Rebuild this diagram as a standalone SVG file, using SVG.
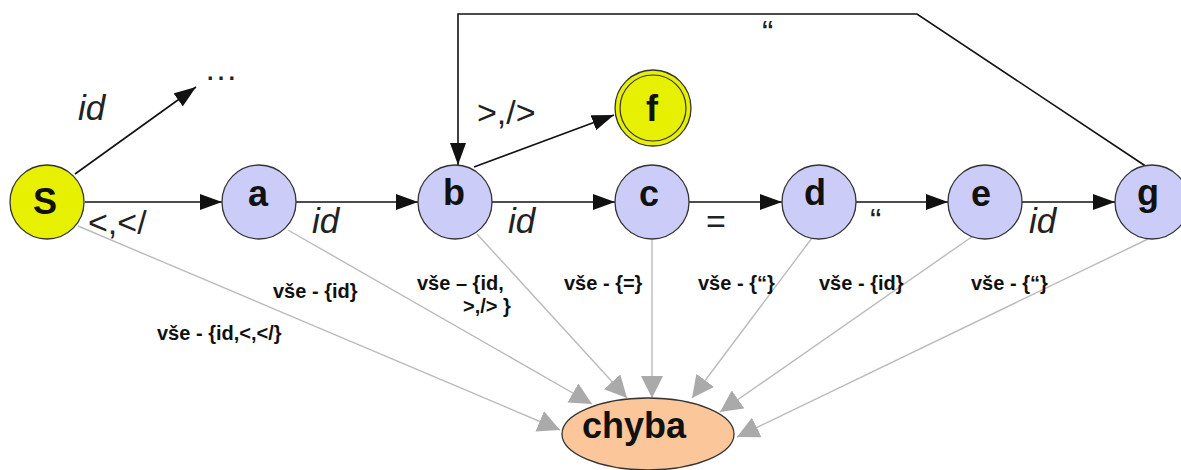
<svg xmlns="http://www.w3.org/2000/svg" width="1181" height="470" viewBox="0 0 1181 470">
<style>
.node{fill:#ccccf8;stroke:#333;stroke-width:1.3}
.yel{fill:#e6f000;stroke:#333;stroke-width:1.3}
.nl{font-family:"Liberation Sans",Arial,sans-serif;font-weight:bold;font-size:36px;fill:#111;text-anchor:middle}
.e{fill:none;stroke:#111;stroke-width:1.6}
.g{fill:none;stroke:#bbb;stroke-width:1.4}
.it{font-family:"Liberation Sans",Arial,sans-serif;font-style:italic;font-size:35px;fill:#222}
.lb{font-family:"Liberation Sans",Arial,sans-serif;font-size:34px;fill:#222}
.gl{font-family:"Liberation Sans",Arial,sans-serif;font-weight:bold;font-size:20px;fill:#111}
</style>
<defs>
<marker id="ab" markerUnits="userSpaceOnUse" markerWidth="24" markerHeight="16" refX="22" refY="8" orient="auto"><path d="M0,0 L22,8 L0,16 Z" fill="#111"/></marker>
<marker id="ag" markerUnits="userSpaceOnUse" markerWidth="24" markerHeight="22" refX="22" refY="11" orient="auto"><path d="M0,0 L22,11 L0,22 Z" fill="#aaa"/></marker>
</defs>
<rect width="1181" height="470" fill="#fff"/>
<g id="connectors">
<line class="g" x1="78" y1="226" x2="560" y2="430" marker-end="url(#ag)"/>
<line class="g" x1="288" y1="230" x2="592" y2="404" marker-end="url(#ag)"/>
<line class="g" x1="477" y1="234" x2="627" y2="398" marker-end="url(#ag)"/>
<line class="g" x1="652" y1="240" x2="652" y2="398" marker-end="url(#ag)"/>
<line class="g" x1="812" y1="238" x2="692" y2="398" marker-end="url(#ag)"/>
<line class="g" x1="973" y1="236" x2="720" y2="412" marker-end="url(#ag)"/>
<line class="g" x1="1148" y1="239" x2="737" y2="437" marker-end="url(#ag)"/>
<line class="e" x1="75" y1="174" x2="196" y2="87" marker-end="url(#ab)"/>
<line class="e" x1="85" y1="202" x2="222" y2="202" marker-end="url(#ab)"/>
<line class="e" x1="296" y1="202" x2="418" y2="202" marker-end="url(#ab)"/>
<line class="e" x1="492" y1="202" x2="615" y2="202" marker-end="url(#ab)"/>
<line class="e" x1="689" y1="202" x2="782" y2="202" marker-end="url(#ab)"/>
<line class="e" x1="856" y1="202" x2="948" y2="202" marker-end="url(#ab)"/>
<line class="e" x1="1022" y1="202" x2="1115" y2="202" marker-end="url(#ab)"/>
<line class="e" x1="474" y1="167" x2="614" y2="115" marker-end="url(#ab)"/>
<path class="e" d="M1147,167 L917,14 L458,14 L458,165" marker-end="url(#ab)"/>
<text class="it" x="78" y="120">id</text>
<text class="lb" x="204" y="80" font-size="22">…</text>
<text class="lb" x="88" y="234" font-size="36">&lt;,&lt;/</text>
<text class="it" x="312" y="233">id</text>
<text class="lb" x="477" y="124" font-size="36">&gt;,/&gt;</text>
<text class="it" x="508" y="233">id</text>
<text class="lb" x="706" y="233" font-size="32">=</text>
<text class="lb" x="870" y="232" font-size="22">“</text>
<text class="it" x="1029" y="233">id</text>
<text class="lb" x="762" y="44" font-size="22">“</text>
<text class="gl" x="157" y="340">vše - {id,&lt;,&lt;/}</text>
<text class="gl" x="273" y="298">vše - {id}</text>
<text class="gl" x="417" y="290">vše – {id,</text>
<text class="gl" x="463" y="313">&gt;,/&gt; }</text>
<text class="gl" x="564" y="290">vše - {=}</text>
<text class="gl" x="698" y="290">vše - {“}</text>
<text class="gl" x="819" y="290">vše - {id}</text>
<text class="gl" x="971" y="290">vše - {“}</text>
</g>
<g id="node-S"><circle class="yel" cx="47" cy="202" r="37"/><text class="nl" x="45" y="214" font-size="36">S</text></g>
<g id="node-a"><circle class="node" cx="259" cy="202" r="37"/><text class="nl" x="258" y="206">a</text></g>
<g id="node-b"><circle class="node" cx="455" cy="202" r="37"/><text class="nl" x="454" y="205">b</text></g>
<g id="node-c"><circle class="node" cx="652" cy="202" r="37"/><text class="nl" x="649" y="206">c</text></g>
<g id="node-d"><circle class="node" cx="819" cy="202" r="37"/><text class="nl" x="815" y="205">d</text></g>
<g id="node-e"><circle class="node" cx="985" cy="202" r="37"/><text class="nl" x="981" y="206">e</text></g>
<g id="node-g"><circle class="node" cx="1152" cy="202" r="37"/><text class="nl" x="1148" y="205">g</text></g>
<g id="node-f"><circle class="yel" cx="653" cy="108" r="38"/><circle fill="none" stroke="#333" stroke-width="1.2" cx="653" cy="108" r="33"/><text class="nl" x="652" y="121">f</text></g>
<g id="node-chyba"><ellipse cx="648" cy="434" rx="86" ry="36" fill="#fbc79a" stroke="#333" stroke-width="1.3"/><text class="nl" x="634" y="438" font-size="38">chyba</text></g>
</svg>
